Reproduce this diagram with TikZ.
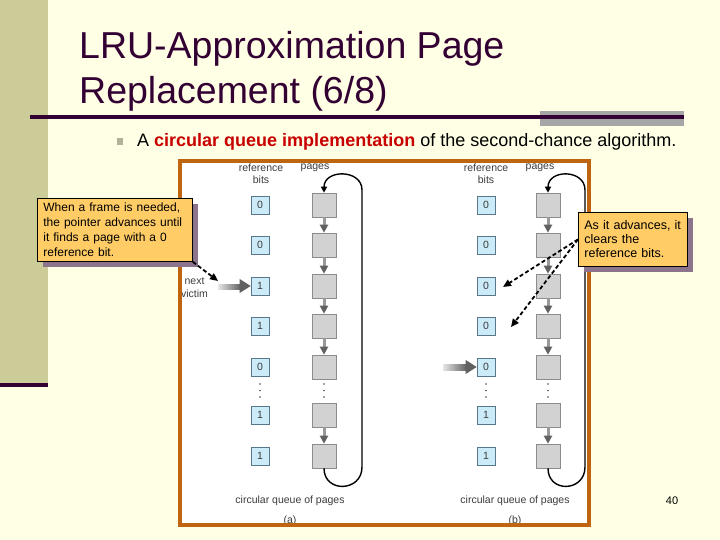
\documentclass[tikz,border=0pt]{standalone}
\usepackage{fontspec}
\setmainfont{Liberation Sans}
\usetikzlibrary{arrows.meta,calc,shadows}
\definecolor{bg}{RGB}{255,255,229}
\definecolor{khaki}{RGB}{204,204,153}
\definecolor{darkp}{RGB}{51,0,51}
\definecolor{barg}{RGB}{166,166,166}
\definecolor{redb}{RGB}{200,0,0}
\definecolor{bulletc}{RGB}{178,178,150}
\definecolor{frameor}{RGB}{192,101,15}
\definecolor{bitfill}{RGB}{204,235,248}
\definecolor{bitdraw}{RGB}{90,120,140}
\definecolor{pagefill}{RGB}{210,210,210}
\definecolor{pagedraw}{RGB}{140,140,140}
\definecolor{callfill}{RGB}{255,204,102}
\definecolor{callshadow}{RGB}{140,117,140}
\definecolor{figtext}{RGB}{60,60,60}
\begin{document}
\begin{tikzpicture}[x=1pt,y=-1pt,
  bitbox/.style={draw=bitdraw, fill=bitfill, minimum width=18pt, minimum height=18pt, inner sep=0pt, line width=0.6pt, text=figtext, font=\fontsize{10.5}{12}\selectfont},
  pagebox/.style={draw=pagedraw, fill=pagefill, minimum width=24pt, minimum height=24pt, inner sep=0pt, line width=0.6pt},
  figlabel/.style={inner sep=0pt, text=figtext, font=\fontsize{10.5}{12}\selectfont},
  pagearrow/.style={draw=black!40, line width=3pt, -{Triangle[length=8pt,width=8pt,color=black!62]}},
  loopline/.style={line width=1.4pt, -{Triangle[length=6pt,width=6pt]}},
  dasharrow/.style={line width=1.8pt, dash pattern=on 4pt off 2.5pt, -{Triangle[length=8pt,width=7pt]}},
  callout/.style={draw=black, fill=callfill, line width=0.8pt, align=left, anchor=north west,
     drop shadow={shadow xshift=6pt, shadow yshift=-6pt, fill=callshadow, opacity=1}},
  titletext/.style={anchor=base west, inner sep=0pt, text=darkp, font=\fontsize{37.5}{45}\selectfont}
]
\useasboundingbox (0,0) rectangle (720,540);
% background
\fill[bg] (0,0) rectangle (720,540);
\fill[khaki] (0,0) rectangle (48,383);
\draw[darkp, line width=4pt] (0,384.5) -- (48,384.5);
\fill[barg] (540,111) rectangle (684,126);
\draw[darkp, line width=3.5pt] (30,117) -- (684,117);
% title
\node[titletext] (t1) at (79,58.3) {LRU-Approximation Page};
\node[titletext] (t2) at (79,103.3) {Replacement (6/8)};
% bullet
\node[fill=bulletc, minimum size=6.5pt, inner sep=0pt] (bl) at (120,141.5) {};
\node[anchor=base west, inner sep=0pt, font=\fontsize{18}{20}\selectfont] (bt) at (137,146.7)
  {A \textcolor{redb}{\bfseries circular queue implementation} of the second-chance algorithm.};
% figure frame fill
\fill[white] (180,161.5) rectangle (589,525);
% ---------- figure (a)
\node[figlabel] (ar) at (261,168) {reference};
\node[figlabel] (abl) at (261,180) {bits};
\node[figlabel] (apl) at (315,168) {pages};
\foreach \i/\y/\v in {1/205/0,2/245/0,3/286/1,4/326/1,5/367/0,6/415/1,7/456/1}{
  \node[bitbox] (ab\i) at (260,\y) {\v};
  \node[pagebox] (ap\i) at (324,\y) {};
}
\foreach \i/\j in {1/2,2/3,3/4,4/5,6/7}{ \draw[pagearrow] (ap\i) -- (ap\j); }
\foreach \yy in {384,390.5,397}{ \fill[black!70] (260,\yy) circle (0.9); \fill[black!70] (324,\yy) circle (0.9); }
\draw[loopline] (ap7.south) .. controls +(0,25) and (362,492) .. (362,467) -- (362,190)
   .. controls (362,169) and (324,169) .. (ap1.north);
\node[figlabel] (aq) at (290,501) {circular queue of pages};
\node[figlabel] (acap) at (290,521) {(a)};
% next victim
\node[figlabel, align=center, font=\fontsize{10.5}{13}\selectfont] (nvt) at (194.5,287.5) {next\\victim};
\coordinate (nv) at (218,287);
\shade[left color=black!10, right color=black!62] ($(nv)+(0,-3)$) rectangle ($(ab3.west)+(-10,3)$);
\fill[black!62] ($(ab3.west)+(-11,-7)$) -- (ab3.west) -- ($(ab3.west)+(-11,7)$) -- cycle;
% ---------- figure (b)
\node[figlabel] (br) at (486,168) {reference};
\node[figlabel] (bbl) at (486,180) {bits};
\node[figlabel] (bpl) at (540,168) {pages};
\foreach \i/\y/\v in {1/205/0,2/245/0,3/286/0,4/326/0,5/367/0,6/415/1,7/456/1}{
  \node[bitbox] (bb\i) at (486,\y) {\v};
  \node[pagebox] (bp\i) at (548,\y) {};
}
\foreach \i/\j in {1/2,2/3,3/4,4/5,6/7}{ \draw[pagearrow] (bp\i) -- (bp\j); }
\foreach \yy in {384,390.5,397}{ \fill[black!70] (486,\yy) circle (0.9); \fill[black!70] (548,\yy) circle (0.9); }
\draw[loopline] (bp7.south) .. controls +(0,25) and (585,492) .. (585,467) -- (585,190)
   .. controls (585,169) and (548,169) .. (bp1.north);
\node[figlabel] (bq) at (515,501) {circular queue of pages};
\node[figlabel] (bcap) at (515,521) {(b)};
\coordinate (pv) at (443,367);
\shade[left color=black!10, right color=black!62] ($(pv)+(0,-3)$) rectangle ($(bb5.west)+(-10,3)$);
\fill[black!62] ($(bb5.west)+(-11,-7)$) -- (bb5.west) -- ($(bb5.west)+(-11,7)$) -- cycle;
% frame border
\draw[frameor, line width=4pt] (180,161.5) rectangle (589,525);
% page number
\node[inner sep=0pt, font=\fontsize{11}{13}\selectfont] (pn) at (672,501) {40};
% callouts
\node[callout, minimum width=154pt, minimum height=63pt, text width=143pt, inner xsep=6pt,
      font=\fontsize{12}{15}\selectfont] (cl) at (37,198)
  {When a frame is needed,\\the pointer advances until\\it finds a page with a 0\\reference bit.};
\node[callout, minimum width=109pt, minimum height=54pt, text width=97pt, inner xsep=6pt,
      font=\fontsize{12.5}{14}\selectfont] (cr) at (578,212)
  {As it advances, it\\clears the\\reference bits.};
% dashed pointers
\coordinate (lt) at (218,281);
\draw[dasharrow] (cl.south east) -- (lt);
\coordinate (rt1) at (503,287);
\coordinate (rt2) at (511,327);
\draw[dasharrow] (cr.west) -- (rt1);
\draw[dasharrow] (cr.west) -- (rt2);
\end{tikzpicture}
\end{document}
